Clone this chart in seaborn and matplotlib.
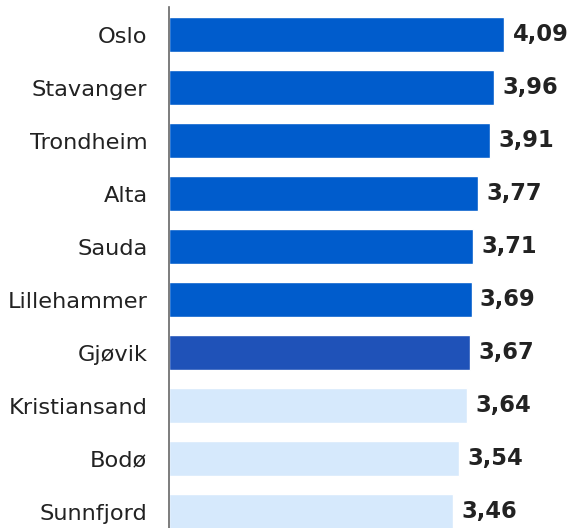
import matplotlib
matplotlib.use("Agg")
import matplotlib.pyplot as plt
import seaborn as sns
import pandas as pd

cities = ["Oslo", "Stavanger", "Trondheim", "Alta", "Sauda", "Lillehammer",
          "Gjøvik", "Kristiansand", "Bodø", "Sunnfjord"]
scores = [4.09, 3.96, 3.91, 3.77, 3.71, 3.69, 3.67, 3.64, 3.54, 3.46]
bar_colors = ["#005ccc"] * 6 + ["#1f52b8"] + ["#d6e9fc"] * 3

sns.set_theme(style="white")
plt.rcParams["font.family"] = ["DejaVu Sans"]

df = pd.DataFrame({"city": cities, "score": scores})

W, H = 569, 528
fig = plt.figure(figsize=(W / 100, H / 100), dpi=100)
ax = fig.add_axes([169 / W, 0, (W - 169) / W, 521 / H])

sns.barplot(data=df, x="score", y="city", hue="city", palette=bar_colors,
            orient="h", width=0.66, legend=False, ax=ax, saturation=1)

ax.set_xlim(0, (W - 169) / 82.0)
ax.set_ylim(9.31, -0.52)
ax.set_xlabel("")
ax.set_ylabel("")
ax.set_xticks([])
ax.tick_params(axis="y", length=0, pad=15.5, labelsize=16.2, labelcolor="#222222")

for side in ["top", "right", "bottom"]:
    ax.spines[side].set_visible(False)
ax.spines["left"].set_color("#666666")
ax.spines["left"].set_linewidth(1.2)

for i, v in enumerate(scores):
    ax.annotate(f"{v:.2f}".replace(".", ","), xy=(v, i), xytext=(6, 0),
                textcoords="offset points", va="center", ha="left",
                fontsize=16.3, fontweight="bold", color="#222222")

fig.savefig("out.png", dpi=100)
